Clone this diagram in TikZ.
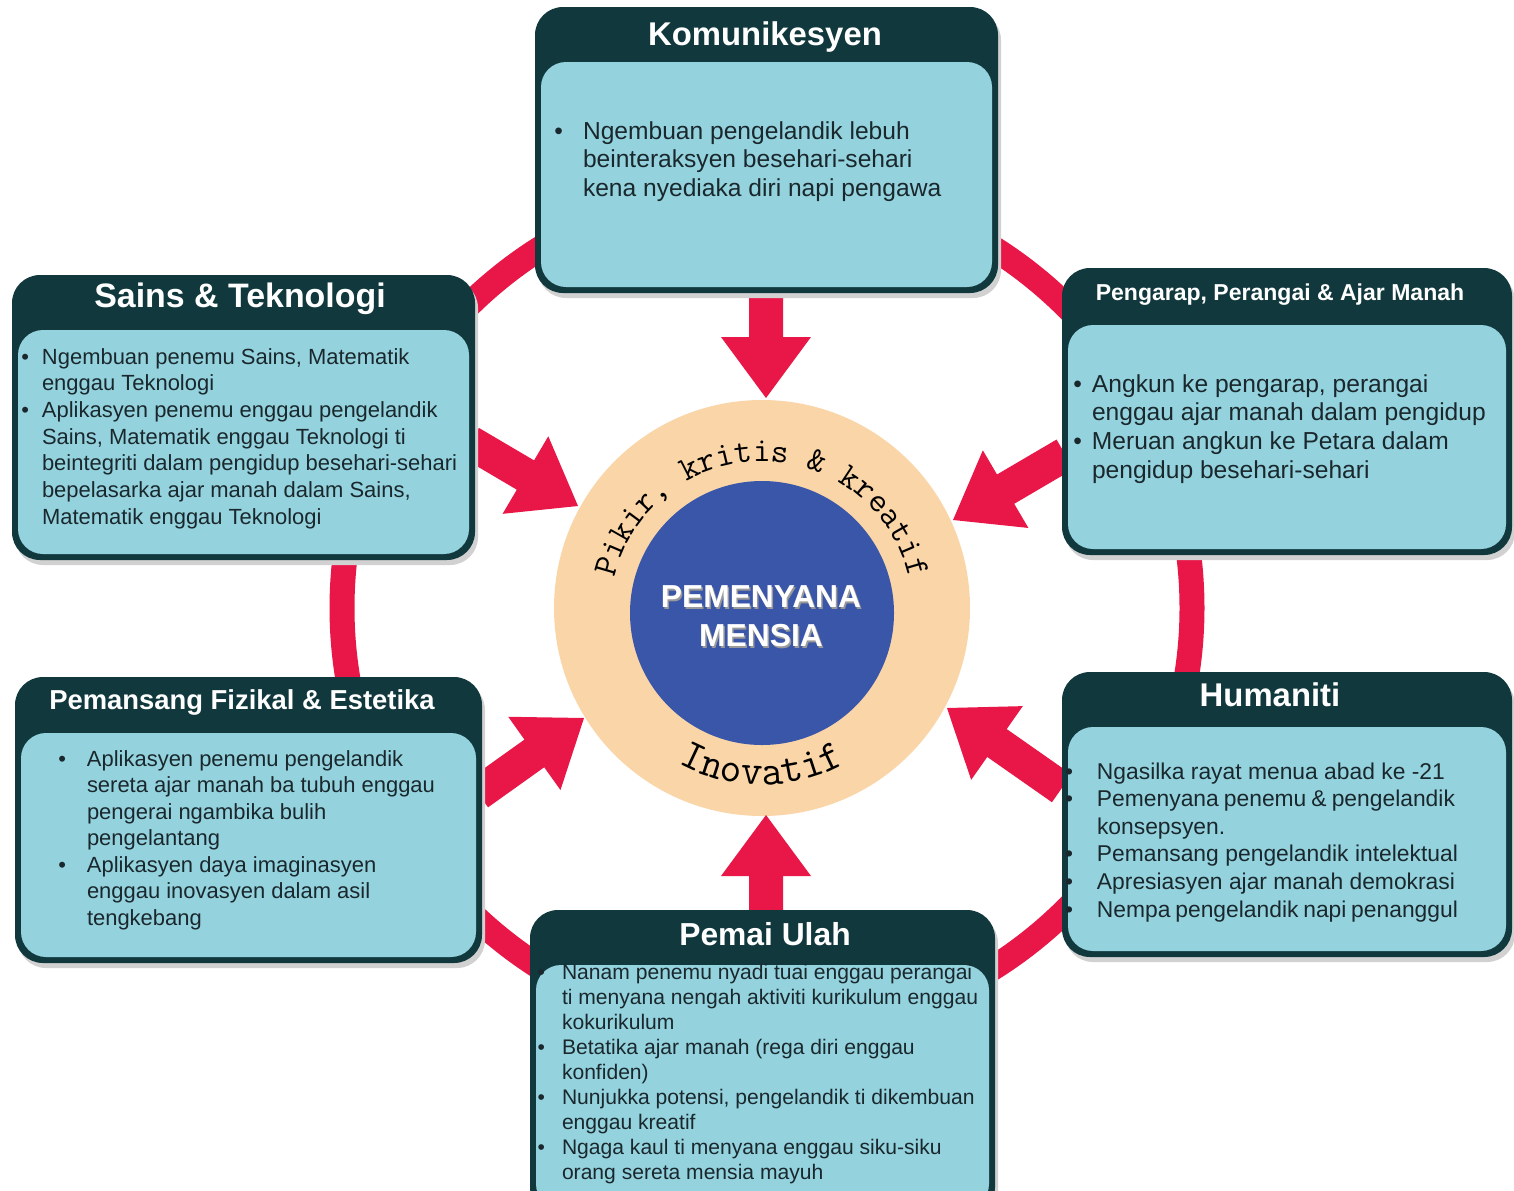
\documentclass[tikz,border=0pt]{standalone}
\usepackage{fontspec}
\setmainfont{Liberation Sans}
\usetikzlibrary{decorations.text,calc,shapes.geometric}
\definecolor{boxdark}{HTML}{11393D}
\definecolor{boxlight}{HTML}{94D3DE}
\definecolor{ringred}{HTML}{E81748}
\definecolor{peach}{HTML}{FAD5A8}
\definecolor{corebl}{HTML}{3A56A8}
\definecolor{inkdark}{HTML}{1A282D}
\newdimen\px \px=0.02cm
\newcommand\fs[2]{\fontsize{#1}{#2}\selectfont}
\newcommand\bul[1]{\llap{\textbullet\hspace{#1\px}}}
\newcommand\arcfont{\fontsize{19.5}{19.5}\selectfont\ttfamily\color{black}}
\newcommand\arcfontb{\fontsize{24}{24}\selectfont\ttfamily\color{black}}
\newcommand\redarrow[3]{\fill[ringred, shift={#1}, rotate=#2] (0,0) -- (-61,45) -- (-61,17) -- (-#3,17) -- (-#3,-17) -- (-61,-17) -- (-61,-45) -- cycle;}
\newcommand\infobox[6]{%
  \fill[black!18, rounded corners=0.56cm] ({#2+3},{-#3-5}) rectangle ({#4+3},{-#5-5});
  \node[outerbox, minimum width={(#4-#2)*0.02cm}, minimum height={(#5-#3)*0.02cm}] (#1) at ({(#2+#4)/2},{-(#3+#5)/2}) {};
  \node[innerbox, minimum width={(#4-#2-12)*0.02cm}, minimum height={(#5-6-#6)*0.02cm}] (#1in) at ({(#2+#4)/2},{-(#6+#5-6)/2}) {};
}
\newcommand\textlines[6]{%
  \foreach \myline [count=\i from 0] in {#6} {
    \node[bodytext, font=#2, anchor=base west] (#1\i) at (#3, {-(#4+\i*#5)}) {\myline};
  }
}
\begin{document}
\begin{tikzpicture}[x=0.02cm, y=0.02cm,
  bodytext/.style={inner sep=0pt, outer sep=0pt, text=inkdark},
  outerbox/.style={fill=boxdark, rounded corners=0.56cm, inner sep=0pt, outer sep=0pt},
  innerbox/.style={fill=boxlight, rounded corners=0.5cm, inner sep=0pt, outer sep=0pt},
  title/.style={text=white, font=\bfseries\fs{18.7}{22}, inner sep=0pt},
  coretext/.style={font=\bfseries\fs{18.1}{22}, inner sep=0pt}]
\useasboundingbox (0,0) rectangle (1514,-1190);
\clip (0,0) rectangle (1514,-1190);
\fill[white] (0,0) rectangle (1514,-1190);

% red ring
\coordinate (ringc) at (767,-608);
\draw[ringred, line width=0.5cm] (ringc) circle[radius=425];

% centre
\coordinate (cc) at (762,-612);
\node[circle, fill=peach, minimum size=416*0.02cm, inner sep=0pt] (halo) at (762,-608) {};
\node[circle, fill=corebl, minimum size=264*0.02cm, inner sep=0pt] (core) at (762,-613) {};

% arrows
\coordinate (tipT) at (766,-398);
\coordinate (tipB) at (766,-815);
\coordinate (tipUL) at (578,-506);
\coordinate (tipUR) at (953,-520);
\coordinate (tipLL) at (584,-718);
\coordinate (tipLR) at (947,-708);
\redarrow{(tipT)}{-90}{115}
\redarrow{(tipB)}{90}{105}
\redarrow{(tipUL)}{-30.5}{125}
\redarrow{(tipUR)}{210.4}{130}
\redarrow{(tipLL)}{35.5}{130}
\redarrow{(tipLR)}{145}{140}

% boxes
\infobox{K}{535}{7}{998}{293}{62}
\infobox{S}{12}{275}{475}{560}{330}
\infobox{P}{1062}{268}{1512}{555}{325}
\infobox{F}{15}{677}{482}{963}{733}
\infobox{H}{1062}{672}{1512}{957}{727}
\infobox{U}{530}{910}{995}{1215}{965}

% titles
\node[title] (Kt) at (765,-37) {Komunikesyen};
\node[title, font=\bfseries\fs{19.3}{22}] (St) at (240,-299) {Sains \& Teknologi};
\node[title, font=\bfseries\fs{13.1}{16}] (Pt) at (1280,-295) {Pengarap, Perangai \& Ajar Manah};
\node[title, font=\bfseries\fs{15.6}{18}] (Ft) at (242,-702) {Pemansang Fizikal \& Estetika};
\node[title] (Ht) at (1270,-695) {Humaniti};
\node[title, font=\bfseries\fs{18.1}{22}] (Ut) at (765,-934) {Pemai Ulah};

% body texts
\textlines{Kl}{\fs{14}{16}}{583}{139}{28.5}{{\bul{20}Ngembuan pengelandik lebuh},{beinteraksyen besehari-sehari},{kena nyediaka diri napi pengawa}}
\textlines{Sl}{\fs{12.5}{15}}{42}{364}{26.7}{{\bul{13}Ngembuan penemu Sains, Matematik},{enggau Teknologi},{\bul{13}Aplikasyen penemu enggau pengelandik},{Sains, Matematik enggau Teknologi ti},{beintegriti dalam pengidup besehari-sehari},{bepelasarka ajar manah dalam Sains,},{Matematik enggau Teknologi}}
\textlines{Pl}{\fs{14}{16}}{1092}{392}{28.7}{{\bul{10}Angkun ke pengarap, perangai},{enggau ajar manah dalam pengidup},{\bul{10}Meruan angkun ke Petara dalam},{pengidup besehari-sehari}}
\textlines{Fl}{\fs{12.5}{15}}{87}{766}{26.5}{{\bul{21}Aplikasyen penemu pengelandik},{sereta ajar manah ba tubuh enggau},{pengerai ngambika bulih},{pengelantang},{\bul{21}Aplikasyen daya imaginasyen},{enggau inovasyen dalam asil},{tengkebang}}
\textlines{Hl}{\fs{13}{15.5}}{1097}{779}{27.6}{{\bul{24}Ngasilka rayat menua abad ke -21},{\bul{24}\makebox[358\px][s]{Pemenyana penemu \& pengelandik}},{konsepsyen.},{\bul{24}\makebox[361\px][s]{Pemansang pengelandik intelektual}},{\bul{24}\makebox[358\px][s]{Apresiasyen ajar manah demokrasi}},{\bul{24}\makebox[361\px][s]{Nempa pengelandik napi penanggul}}}
\textlines{Ul}{\fs{12}{14}}{562}{979}{25.1}{{\bul{17}Nanam penemu nyadi tuai enggau perangai},{ti menyana nengah aktiviti kurikulum enggau},{kokurikulum},{\bul{17}Betatika ajar manah (rega diri enggau},{konfiden)},{\bul{17}Nunjukka potensi, pengelandik ti dikembuan},{enggau kreatif},{\bul{17}Ngaga kaul ti menyana enggau siku-siku},{orang sereta mensia mayuh}}

% centre texts
\node[coretext, text=black!40] (cs1) at (762.5,-598.5) {PEMENYANA};
\node[coretext, text=black!40] (cs2) at (762.5,-637.5) {MENSIA};
\node[coretext, text=white] (c1) at (761,-597) {PEMENYANA};
\node[coretext, text=white] (c2) at (761,-636) {MENSIA};

\path[decorate, decoration={text along path, text align=center, text={|\arcfont|Pikir, kritis {\&} kreatif}}] ($(cc)+(180:151)$) arc[start angle=180, end angle=0, radius=151];
\path[decorate, decoration={text along path, text align=center, text={|\arcfontb|Inovatif}}] ($(cc)+(215:173)$) arc[start angle=215, end angle=325, radius=173];
\end{tikzpicture}
\end{document}
